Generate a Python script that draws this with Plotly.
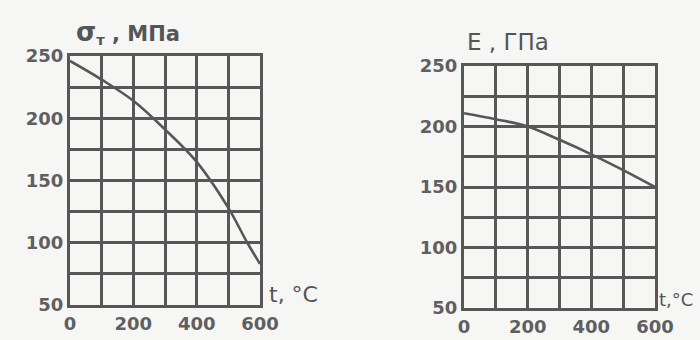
import plotly.graph_objects as go

# Left chart: yield strength vs temperature
t_sigma = [0, 100, 200, 300, 400, 500, 560, 600]
sigma_t = [246, 231, 214, 191, 165, 128, 100, 83]

# Right chart: elastic modulus vs temperature
t_e = [0, 100, 200, 300, 400, 500, 600]
e_mod = [211, 206, 200, 189, 177, 164, 150]

x_ticks = [0, 200, 400, 600]
x_text = ["0", "200", "400", "600"]
y_ticks = [50, 100, 150, 200, 250]
y_text = ["50", "100", "150", "200", "250"]

ink = "#575757"
bg = "#f6f6f4"
font = dict(family="DejaVu Sans", size=18, color="#5f5f5f", weight="bold")
lab_font = dict(family="DejaVu Sans", size=21, color="#555555", weight="bold")

fig = go.Figure()
fig.add_trace(go.Scatter(x=t_sigma, y=sigma_t, mode="lines",
                         line=dict(color=ink, width=2.6, shape="spline"),
                         xaxis="x", yaxis="y", showlegend=False))
fig.add_trace(go.Scatter(x=t_e, y=e_mod, mode="lines",
                         line=dict(color=ink, width=2.6, shape="spline"),
                         xaxis="x2", yaxis="y2", showlegend=False))

def xax(domain, anchor):
    return dict(domain=domain, anchor=anchor, range=[0, 600], automargin=False,
                tickvals=x_ticks, ticktext=x_text, ticks="",
                showgrid=True, gridcolor=ink, gridwidth=2.6,
                minor=dict(dtick=100, showgrid=True, gridcolor=ink, gridwidth=2.6, ticks=""),
                showline=True, linecolor=ink, linewidth=3, mirror=True,
                zeroline=False, tickfont=font, fixedrange=True)

def yax(domain, anchor):
    return dict(domain=domain, anchor=anchor, range=[50, 250], automargin=False,
                tickvals=y_ticks, ticktext=y_text, ticks="",
                showgrid=True, gridcolor=ink, gridwidth=2.6,
                minor=dict(dtick=25, showgrid=True, gridcolor=ink, gridwidth=2.6, ticks=""),
                showline=True, linecolor=ink, linewidth=3, mirror=True,
                zeroline=False, tickfont=font, fixedrange=True)

fig.update_layout(
    width=700, height=340, autosize=False,
    margin=dict(l=0, r=0, t=0, b=0, pad=0, autoexpand=False),
    paper_bgcolor=bg, plot_bgcolor=bg,
    xaxis=xax([70/700, 260/700], "y"),
    yaxis=yax([1-305/340, 1-56/340], "x"),
    xaxis2=xax([464/700, 655/700], "y2"),
    yaxis2=yax([1-308/340, 1-66/340], "x2"),
    annotations=[
        dict(text="<span style='font-size:26px'>σ</span><sub>т</sub> , МПа", x=74/700, y=1-32/340,
             xref="paper", yref="paper", xanchor="left", yanchor="middle",
             showarrow=False, font=lab_font),
        dict(text="E , ГПа", x=465/700, y=1-42/340, xref="paper", yref="paper",
             xanchor="left", yanchor="middle", showarrow=False,
             font=dict(family="DejaVu Sans", size=23, color="#555555")),
        dict(text="t, °C", x=267/700, y=1-294/340, xref="paper", yref="paper",
             xanchor="left", yanchor="middle", showarrow=False,
             font=dict(family="DejaVu Sans", size=22, color="#555555")),
        dict(text="t,°C", x=657/700, y=1-299/340, xref="paper", yref="paper",
             xanchor="left", yanchor="middle", showarrow=False,
             font=dict(family="DejaVu Sans", size=18, color="#555555")),
    ],
)

fig.write_html("out.html", config={"responsive": False, "displayModeBar": False},
               post_script="document.body.style.margin='0';document.body.style.overflow='hidden';")
